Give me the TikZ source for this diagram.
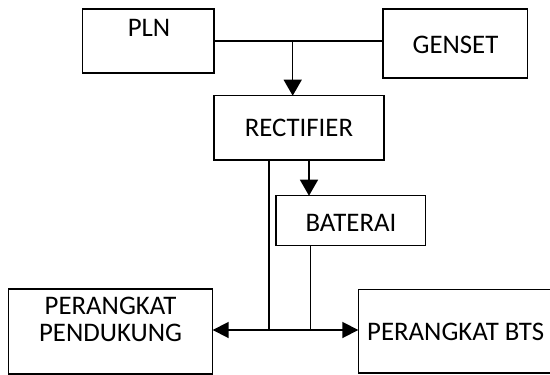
\documentclass[tikz,border=0pt]{standalone}
\usepackage{fontspec}
\setmainfont{Carlito}
\usetikzlibrary{arrows.meta}
\begin{document}
\begin{tikzpicture}[x=1pt,y=-1pt,
  box/.style={draw,line width=1.5pt,inner sep=0pt,outer sep=0pt},
  txt/.style={inner sep=0pt,anchor=base,font=\fontsize{26.8}{27}\selectfont},
  wire/.style={line width=1.5pt},
  tip/.style={-{Triangle[length=16pt,width=18pt]}},
  tips/.style={{Triangle[length=16pt,width=16pt]}-{Triangle[length=16pt,width=16pt]}}]
\useasboundingbox (0,0) rectangle (550,375);
% boxes
\node[box,minimum width=131.3pt,minimum height=64pt] (pln) at (148.3,41) {};
\node[box,minimum width=144.7pt,minimum height=69pt] (genset) at (455.3,43.5) {};
\node[box,minimum width=170pt,minimum height=64.3pt] (rect) at (299,127.85) {};
\node[box,minimum width=149.7pt,minimum height=50pt] (bat) at (350.85,220.7) {};
\node[box,minimum width=204.4pt,minimum height=85pt] (pend) at (110.5,331.5) {};
\node[box,minimum width=201.7pt,minimum height=83.7pt] (bts) at (459.15,331.15) {};
% texts
\node[txt] (plnt) at (149,36) {PLN};
\node[txt] (gensett) at (455.5,53.3) {GENSET};
\node[txt] (rectt) at (299,136.7) {RECTIFIER};
\node[txt] (batt) at (351,231) {BATERAI};
\node[txt] (pendt1) at (110.5,314.3) {PERANGKAT};
\node[txt] (pendt2) at (110.5,341) {PENDUKUNG};
\node[txt,anchor=base west] (btst) at (367,340) {PERANGKAT BTS};
% coordinates
\coordinate (j) at (292.7,41);
\coordinate (r1) at (269,160);
\coordinate (r2) at (309,160);
\coordinate (b1) at (310.5,245.7);
\coordinate (bus) at (0,330);
% connectors
\draw[wire] (pln.east) -- (pln.east -| genset.west);
\draw[wire,tip] (j) -- (j |- rect.north);
\draw[wire] (r1) -- (r1 |- bus);
\draw[wire,tip] (r2) -- (r2 |- bat.north);
\draw[line width=1.1pt] (b1) -- (b1 |- bus);
\draw[line width=1.8pt,tips] (pend.east |- bus) -- (bts.west |- bus);
\end{tikzpicture}
\end{document}
